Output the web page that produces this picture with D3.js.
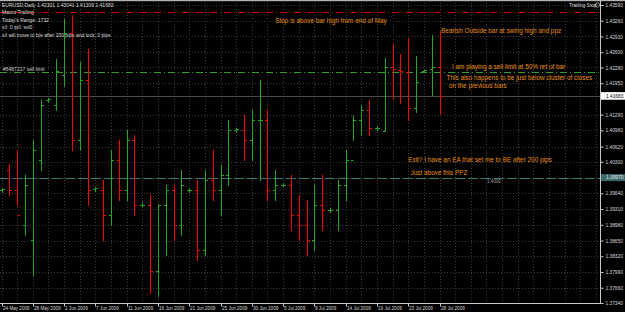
<!DOCTYPE html>
<html>
<head>
<meta charset="utf-8">
<script src="https://cdn.jsdelivr.net/npm/d3@7"></script>
<style>
  html, body { margin: 0; padding: 0; background: #000; }
  svg { display: block; font-family: "Liberation Sans", Arial, sans-serif; }
</style>
</head>
<body>
<svg id="chart"></svg>
<script>
const WIDTH = 625, HEIGHT = 312;

// daily bars, EURUSD
const dates = ["24 May","25 May","26 May","27 May","28 May","29 May","31 May","1 Jun","2 Jun","3 Jun",
  "4 Jun","5 Jun","7 Jun","8 Jun","9 Jun","10 Jun","11 Jun","12 Jun","14 Jun","15 Jun",
  "16 Jun","17 Jun","18 Jun","19 Jun","21 Jun","22 Jun","23 Jun","24 Jun","25 Jun","26 Jun",
  "28 Jun","29 Jun","30 Jun","1 Jul","2 Jul","3 Jul","5 Jul","6 Jul","7 Jul","8 Jul",
  "9 Jul","10 Jul","12 Jul","13 Jul","14 Jul","15 Jul","16 Jul","17 Jul","19 Jul","20 Jul",
  "21 Jul","22 Jul","23 Jul","24 Jul","26 Jul","27 Jul","28 Jul"];

const open  = [1.3971,1.4013,1.3971,1.3898,1.3866,1.4034,1.4160,1.4149,1.4212,1.4300,
  1.4076,1.4202,1.3973,1.3971,1.3919,1.4034,1.3971,1.4076,1.3940,1.3940,
  1.3801,1.3940,1.3971,1.3898,1.3971,1.3971,1.3845,1.3992,1.3971,1.4003,
  1.4097,1.4097,1.4076,1.4118,1.4118,1.3971,1.3982,1.3982,1.3919,1.3898,
  1.3866,1.3940,1.3929,1.3929,1.3982,1.4034,1.4118,1.4139,1.4101,1.4095,
  1.4230,1.4223,1.4219,1.4143,1.4221,1.4225,1.4230];
const high  = [1.3975,1.4025,1.4055,1.4003,1.4076,1.4160,1.4164,1.4246,1.4330,1.4337,
  1.4240,1.4267,1.3977,1.3992,1.4055,1.4076,1.4097,1.4086,1.3945,1.3961,
  1.3940,1.3982,1.3982,1.4013,1.3975,1.3992,1.4013,1.4055,1.4024,1.4118,
  1.4101,1.4128,1.4139,1.4202,1.4139,1.4013,1.3986,1.4003,1.3961,1.3950,
  1.3982,1.4003,1.3933,1.3992,1.4055,1.4128,1.4149,1.4160,1.4105,1.4248,
  1.4277,1.4256,1.4290,1.4252,1.4223,1.4296,1.4304];
const low   = [1.3967,1.3961,1.3940,1.3877,1.3793,1.4013,1.4156,1.4139,1.4190,1.4055,
  1.4055,1.3940,1.3969,1.3866,1.3898,1.3950,1.3950,1.3919,1.3936,1.3755,
  1.3749,1.3835,1.3866,1.3877,1.3967,1.3824,1.3835,1.3950,1.3919,1.3982,
  1.4093,1.4034,1.4034,1.3992,1.3950,1.3950,1.3978,1.3887,1.3866,1.3835,
  1.3845,1.3887,1.3925,1.3887,1.3950,1.4076,1.4086,1.4086,1.4097,1.4095,
  1.4162,1.4154,1.4118,1.4135,1.4219,1.4170,1.4131];
const close = [1.3973,1.3971,1.3919,1.3982,1.4055,1.4149,1.4162,1.4221,1.4300,1.4076,
  1.4202,1.3971,1.3975,1.3919,1.4034,1.3971,1.4076,1.3940,1.3940,1.3801,
  1.3940,1.3971,1.3898,1.3982,1.3971,1.3845,1.3992,1.3971,1.4003,1.4097,
  1.4099,1.4076,1.4118,1.4118,1.3971,1.3982,1.3982,1.3919,1.3898,1.3866,
  1.3940,1.3929,1.3929,1.3982,1.4034,1.4118,1.4139,1.4101,1.4101,1.4230,
  1.4224,1.4221,1.4143,1.4198,1.4223,1.4230,1.41683];

const dateTicks = ["24 May 2009","28 May 2009","2 Jun 2009","7 Jun 2009","11 Jun 2009","16 Jun 2009",
  "21 Jun 2009","25 Jun 2009","30 Jun 2009","5 Jul 2009","9 Jul 2009","14 Jul 2009","19 Jul 2009",
  "23 Jul 2009","28 Jul 2009"];
const priceTicks = [1.43590,1.43260,1.42930,1.42600,1.42280,1.41950,1.41290,1.40960,1.40620,
  1.40300,1.39970,1.39640,1.39310,1.38980,1.38650,1.38320,1.37990,1.37660,1.37340];

const infoLines = ["EURUSD,Daily  1.42301 1.43041 1.41309 1.41683", "Mauro Trailing",
  "Today's Range: 1732", "s/l: 0   tp/l: ssl0",
  "s/l will move to b/e after 200 pips    and lock: 0 pips"];

const stopLevel = 1.43440, sellLimit = 1.42175, bid = 1.41683, ppz = 1.39970;

const notes = [
  { text: "Stop is above bar high from end of May", bar: 35, price: 1.43220 },
  { text: "Bearish Outside bar at swing high and ppz", bar: 56.2, price: 1.43010 },
  { text: "I am playing a sell limit at 50% ret of bar", bar: 57.6, price: 1.42240 },
  { text: "This also happens to be just below cluster of closes", bar: 56.9, price: 1.42015 },
  { text: "on the previous bars", bar: 57.2, price: 1.41840 },
  { text: "Exit? I have an EA that set me to BE after 200 pips", bar: 52, price: 1.40300 },
  { text: "Just above this PPZ", bar: 52.3, price: 1.40020 }
];

const plotRight = 600, plotBottom = 303;

const svg = d3.select("svg#chart").attr("width", WIDTH).attr("height", HEIGHT);

svg.append("rect").attr("width", WIDTH).attr("height", HEIGHT).attr("fill", "#000");

const x = d3.scaleLinear().domain([0, dates.length - 1]).range([1.5, 439.5]);
const y = d3.scaleLinear().domain([1.37340, 1.43590]).range([plotBottom, 5]);

// grid
const grid = svg.append("g").attr("stroke", "#3a3a3a").attr("stroke-dasharray", "1,2");
priceTicks.forEach(p => {
  grid.append("line").attr("x1", 0).attr("x2", plotRight)
    .attr("y1", Math.round(y(p)) + 0.5).attr("y2", Math.round(y(p)) + 0.5);
});
for (let k = 0; x(k) < plotRight; k += 2) {
  grid.append("line").attr("y1", 0).attr("y2", plotBottom)
    .attr("x1", Math.round(x(k)) + 0.5).attr("x2", Math.round(x(k)) + 0.5);
}

// level lines
const hline = (p, color, dash) => svg.append("line")
  .attr("x1", 0).attr("x2", plotRight)
  .attr("y1", Math.round(y(p)) + 0.5).attr("y2", Math.round(y(p)) + 0.5)
  .attr("stroke", color).attr("stroke-dasharray", dash);

hline(stopLevel, "#d20000", "7,3,1,3");
hline(sellLimit, "#2f9e2f", "7,3,1,3");
hline(bid, "#4a4a4a", null);
hline(ppz, "#3e7676", "10,3");

// bars
const bars = svg.append("g").selectAll("g")
  .data(dates.map((d, i) => ({ i, o: open[i], h: high[i], l: low[i], c: close[i] })))
  .join("g")
  .attr("stroke", d => d.c >= d.o ? "#22a822" : "#ff0000");

bars.append("line")
  .attr("x1", d => Math.round(x(d.i)) + 0.5).attr("x2", d => Math.round(x(d.i)) + 0.5)
  .attr("y1", d => y(d.h)).attr("y2", d => y(d.l) + 1);
bars.append("line")
  .attr("x1", d => Math.round(x(d.i)) - 2).attr("x2", d => Math.round(x(d.i)) + 0.5)
  .attr("y1", d => Math.round(y(d.o)) + 0.5).attr("y2", d => Math.round(y(d.o)) + 0.5);
bars.append("line")
  .attr("x1", d => Math.round(x(d.i)) + 0.5).attr("x2", d => Math.round(x(d.i)) + 3)
  .attr("y1", d => Math.round(y(d.c)) + 0.5).attr("y2", d => Math.round(y(d.c)) + 0.5);

// frame
svg.append("rect").attr("x", 0).attr("y", 0).attr("width", WIDTH).attr("height", 1.2).attr("fill", "#b4b4b4");
svg.append("line").attr("x1", plotRight + 0.5).attr("x2", plotRight + 0.5).attr("y1", 0).attr("y2", plotBottom + 1)
  .attr("stroke", "#c8c8c8");
svg.append("line").attr("x1", 0).attr("x2", plotRight + 1).attr("y1", plotBottom + 0.5).attr("y2", plotBottom + 0.5)
  .attr("stroke", "#c8c8c8");

// price axis
const yAxis = svg.append("g")
  .attr("transform", `translate(${plotRight + 0.5}, 0)`)
  .call(d3.axisRight(y).tickValues(priceTicks).tickSize(3).tickPadding(2).tickFormat(d3.format(".5f")));
yAxis.select(".domain").remove();
yAxis.selectAll("line").attr("stroke", "#c8c8c8");
yAxis.selectAll("text").attr("fill", "#d8d8d8").style("font-size", "4.8px");

// ppz price label
const ppzLabel = svg.append("g").attr("transform", `translate(${plotRight + 1}, ${y(ppz)})`);
ppzLabel.append("rect").attr("x", 0).attr("y", -3.5).attr("width", 24).attr("height", 7).attr("fill", "#3b6a6a");
ppzLabel.append("text").attr("x", 5).attr("dy", "0.35em").attr("fill", "#e8e8e8")
  .style("font-size", "4.8px").text(d3.format(".5f")(ppz));

// bid box
const bidLabel = svg.append("g").attr("transform", `translate(${plotRight + 1}, ${y(bid)})`);
bidLabel.append("rect").attr("x", 0).attr("y", -3.8).attr("width", 25).attr("height", 7.6).attr("fill", "#fff");
bidLabel.append("text").attr("x", 5).attr("dy", "0.35em").attr("fill", "#000")
  .style("font-size", "4.8px").text(d3.format(".5f")(bid));

// date axis
const xAxis = svg.append("g").attr("transform", `translate(0, ${plotBottom + 0.5})`);
dateTicks.forEach((t, k) => {
  const px = Math.round(x(k * 4)) + 0.5;
  xAxis.append("line").attr("x1", px).attr("x2", px).attr("y1", 0).attr("y2", 3).attr("stroke", "#c8c8c8");
  xAxis.append("text").attr("x", px + 0.5).attr("y", 6.5).attr("fill", "#d8d8d8")
    .style("font-size", "4.6px").text(t);
});

// info block
svg.append("g").selectAll("text").data(infoLines).join("text")
  .attr("x", 2).attr("y", (d, i) => 7 + i * 7.4)
  .attr("fill", "#dcdcdc").style("font-size", "5px").text(d => d);

svg.append("text").attr("x", 3).attr("y", y(sellLimit) - 1.5).attr("fill", "#d0d0d0")
  .style("font-size", "5px").text("#5487217 sell limit");

svg.append("text").attr("x", 569).attr("y", 7).attr("fill", "#dcdcdc").style("font-size", "5px").text("Trailing Stop");
svg.append("circle").attr("cx", 597.5).attr("cy", 5).attr("r", 2.2).attr("fill", "none").attr("stroke", "#dcdcdc").attr("stroke-width", 0.6);

svg.append("text").attr("x", 487).attr("y", y(ppz) + 5).attr("fill", "#a0a0a0").style("font-size", "4.6px").text("1.4000");

// notes
svg.append("g").selectAll("text").data(notes).join("text")
  .attr("x", d => x(d.bar)).attr("y", d => y(d.price))
  .attr("fill", "#e8900c").style("font-size", "6.4px").text(d => d.text);
</script>
</body>
</html>
